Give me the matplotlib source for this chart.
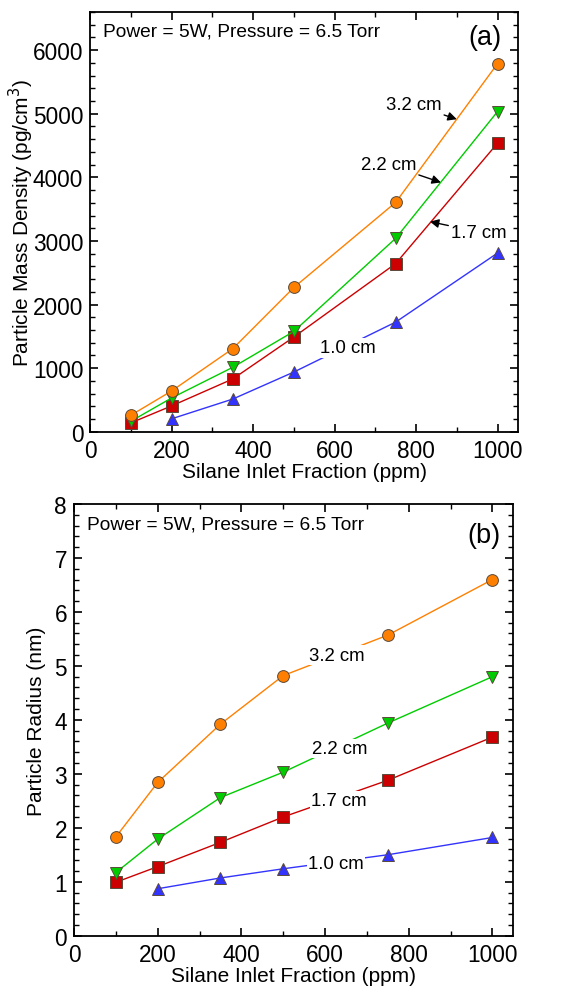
import matplotlib
matplotlib.use("Agg")
import matplotlib.pyplot as plt
from matplotlib.ticker import MultipleLocator

plt.rcParams['font.family'] = ['Liberation Sans', 'DejaVu Sans']

# silane inlet fraction (ppm)
x_all = [100, 200, 350, 500, 750, 1000]
x_10 = [200, 350, 500, 750, 1000]

# (a) particle mass density (pg/cm^3)
dens_32 = [261, 643, 1307, 2269, 3607, 5787]
dens_22 = [167, 533, 1014, 1579, 3042, 5034]
dens_17 = [141, 408, 831, 1490, 2645, 4537]
dens_10 = [205, 515, 940, 1725, 2810]

# (b) particle radius (nm)
rad_32 = [1.83, 2.84, 3.92, 4.82, 5.57, 6.60]
rad_22 = [1.17, 1.79, 2.56, 3.03, 3.94, 4.80]
rad_17 = [0.99, 1.28, 1.73, 2.20, 2.88, 3.68]
rad_10 = [0.87, 1.07, 1.24, 1.50, 1.82]

ORANGE = "#ff8000"
GREEN = "#00cc00"
RED = "#cc0000"
BLUE = "#3333ff"
EDGE = "#5a4a3a"

TICK_FS = 16.3
LABEL_FS = 15
NOTE_FS = 13.8
CURVE_FS = 13.4


def style_axes(ax, ymajor, yminor):
    ax.set_xlim(0, 1050)
    ax.xaxis.set_major_locator(MultipleLocator(200))
    ax.xaxis.set_minor_locator(MultipleLocator(100))
    ax.yaxis.set_major_locator(MultipleLocator(ymajor))
    ax.yaxis.set_minor_locator(MultipleLocator(yminor))
    ax.tick_params(which="both", direction="in", top=True, right=True,
                   labelsize=TICK_FS, pad=5)
    ax.tick_params(which="major", length=6, width=1.2)
    ax.tick_params(which="minor", length=3.5, width=1.0)
    for s in ax.spines.values():
        s.set_linewidth(1.3)
    ax.set_xlabel("Silane Inlet Fraction (ppm)", fontsize=LABEL_FS, labelpad=0)


def series(ax, x, y, color, marker, ms=8.5, z=3):
    ax.plot(x, y, color=color, lw=1.0, marker=marker, ms=ms,
            markerfacecolor=color, markeredgecolor=EDGE, markeredgewidth=0.7,
            zorder=z)


fig = plt.figure(figsize=(5.71, 9.95), dpi=100)
ax1 = fig.add_axes([0.158, 0.565, 0.749, 0.422])
ax2 = fig.add_axes([0.1296, 0.0586, 0.7695, 0.4339])

# ---- panel (a)
series(ax1, x_10, dens_10, BLUE, "^")
series(ax1, x_all, dens_17, RED, "s", ms=8)
series(ax1, x_all, dens_22, GREEN, "v")
series(ax1, x_all, dens_32, ORANGE, "o")
style_axes(ax1, 1000, 200)
ax1.set_ylim(0, 6600)
ax1.set_ylabel("Particle Mass Density (pg/cm$^3$)", fontsize=LABEL_FS, labelpad=-2)
ax1.text(0.029, 0.955, "Power = 5W, Pressure = 6.5 Torr", transform=ax1.transAxes,
         fontsize=NOTE_FS, va="center", ha="left")
ax1.text(0.962, 0.94, "(a)", transform=ax1.transAxes, fontsize=19.5,
         va="center", ha="right")

arrow = dict(arrowstyle="-|>", color="black", lw=1.0, mutation_scale=13,
             shrinkA=0, shrinkB=0)
ax1.annotate("3.2 cm", xy=(900, 4914), xytext=(862, 5140), fontsize=CURVE_FS,
             ha="right", va="center", arrowprops=arrow, zorder=5)
ax1.annotate("2.2 cm", xy=(861, 3920), xytext=(800, 4200), fontsize=CURVE_FS,
             ha="right", va="center", arrowprops=arrow, zorder=5)
ax1.annotate("1.7 cm", xy=(834, 3304), xytext=(886, 3140), fontsize=CURVE_FS,
             ha="left", va="center", arrowprops=arrow, zorder=5)
ax1.text(632, 1322, "1.0 cm", fontsize=CURVE_FS, ha="center", va="center",
         zorder=4, bbox=dict(facecolor="white", edgecolor="none", pad=1))

# ---- panel (b)
series(ax2, x_10, rad_10, BLUE, "^")
series(ax2, x_all, rad_17, RED, "s", ms=8)
series(ax2, x_all, rad_22, GREEN, "v")
series(ax2, x_all, rad_32, ORANGE, "o")
style_axes(ax2, 1, 0.2)
ax2.set_ylim(0, 8)
ax2.set_ylabel("Particle Radius (nm)", fontsize=LABEL_FS, labelpad=6)
ax2.text(0.030, 0.954, "Power = 5W, Pressure = 6.5 Torr", transform=ax2.transAxes,
         fontsize=NOTE_FS, va="center", ha="left")
ax2.text(0.97, 0.927, "(b)", transform=ax2.transAxes, fontsize=19.5,
         va="center", ha="right")

inline = [("3.2 cm", 629, 5.2), ("2.2 cm", 635, 3.47),
          ("1.7 cm", 634, 2.5), ("1.0 cm", 626, 1.33)]
for txt, lx, ly in inline:
    ax2.text(lx, ly, txt, fontsize=CURVE_FS, ha="center", va="center", zorder=4,
             bbox=dict(facecolor="white", edgecolor="none", pad=1))

fig.savefig("out.png", dpi=100)
